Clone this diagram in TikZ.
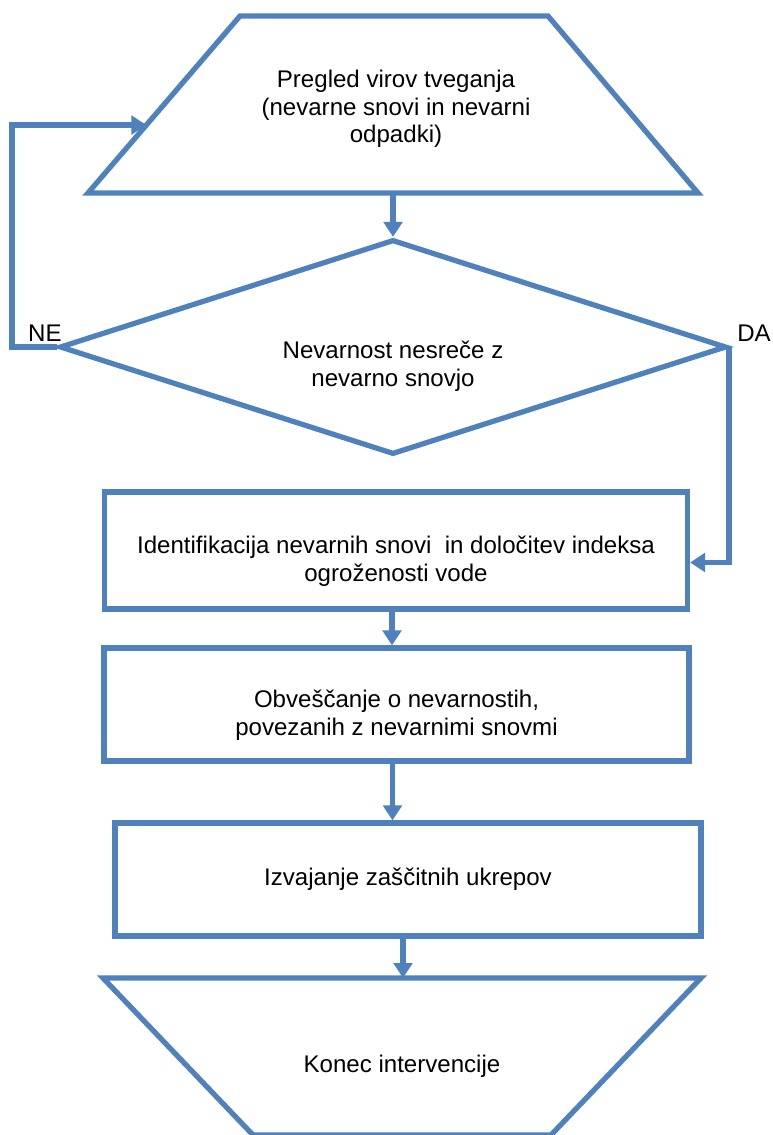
\documentclass[tikz,border=0pt]{standalone}
\usepackage{fontspec}
\setmainfont{Liberation Sans}
\usepackage{tikz}
\usetikzlibrary{arrows, arrows.meta}
\usetikzlibrary{shapes,calc}
\definecolor{flowblue}{RGB}{79,129,189}
\tikzstyle{flow}=[-{Triangle[length=8.5pt,width=10.5pt]}, line width=3pt, draw=flowblue]
\tikzset{
    block/.style={rectangle, draw=flowblue, line width=3pt, inner sep=0pt},
    border/.style={draw=flowblue, line width=3pt, line join=miter},
    decision/.style={diamond, draw=flowblue, line width=3pt, inner sep=0pt},
    txt/.style={align=center, inner sep=0pt, font=\fontsize{13.7}{15.8}\selectfont}
}

\begin{document}
\begin{tikzpicture}[x=0.02cm, y=-0.02cm]
  \useasboundingbox (0,0) rectangle (773,1135);

  % corners of the two trapezia
  \coordinate (s_tl) at (240,16);
  \coordinate (s_tr) at (548,16);
  \coordinate (s_br) at (698,193);
  \coordinate (s_bl) at (88,193);
  \coordinate (s_bot) at ($(s_bl)!0.5!(s_br)$);
  \coordinate (f_tl) at (103,978);
  \coordinate (f_tr) at (701,978);
  \coordinate (f_br) at (551,1135);
  \coordinate (f_bl) at (253,1135);
  \coordinate (f_top) at (403,978);

  \draw[border] (s_tl) -- (s_tr) -- (s_br) -- (s_bl) -- cycle;
  \draw[border] (f_tl) -- (f_tr) -- (f_br) -- (f_bl) -- cycle;

  % shapes
  \node (decide)[decision, minimum width=13.34cm, minimum height=4.3cm] at (393,347) {};
  \node (ident)[block, minimum width=11.66cm, minimum height=2.34cm] at (396,550.5) {};
  \node (notify)[block, minimum width=11.7cm, minimum height=2.26cm] at (396.5,704.5) {};
  \node (act)[block, minimum width=11.72cm, minimum height=2.26cm] at (408,879.5) {};

  %%%%%%%% texts %%%%%%%%%%%%%%%%%%%%%%%%%%%
  \node (start)[txt] at (396,109) {Pregled virov tveganja\\(nevarne snovi in nevarni\\odpadki)};
  \node (t_decide)[txt] at ($(decide)+(0,19)$) {Nevarnost nesreče z\\nevarno snovjo};
  \node (t_ident)[txt] at ($(ident)+(0,11)$) {Identifikacija nevarnih snovi\ \ in določitev indeksa\\ogroženosti vode};
  \node (t_notify)[txt] at ($(notify)+(0,11)$) {Obveščanje o nevarnostih,\\povezanih z nevarnimi snovmi};
  \node (t_act)[txt] at ($(act)+(0,0)$) {Izvajanje zaščitnih ukrepov};
  \node (finish)[txt] at (402,1066) {Konec intervencije};

  \node (ne)[txt] at ($(decide.west)+(-12,-14)$) {NE};
  \node (da)[txt] at ($(decide.east)+(25,-14)$) {DA};

  %%%%%%%% connectors %%%%%%%%%%%%%%%%%%%%%%
  \draw[flow] (s_bot) -- (decide.north);
  \draw[flow] (decide.west) -- ++(-45,0) |- ($(s_bl)!0.384!(s_tl)$);
  \draw[flow] (decide.east) |- ($(ident.east)+(0,12)$);
  \draw[flow] ($(ident.south)+(-4,0)$) -- ($(ident.south |- notify.north)+(-4,0)$);
  \draw[flow] ($(notify.south)+(-4,0)$) -- ($(notify.south |- act.north)+(-4,0)$);
  \draw[flow] (act.south -| f_top) -- (f_top);
\end{tikzpicture}
\end{document}
